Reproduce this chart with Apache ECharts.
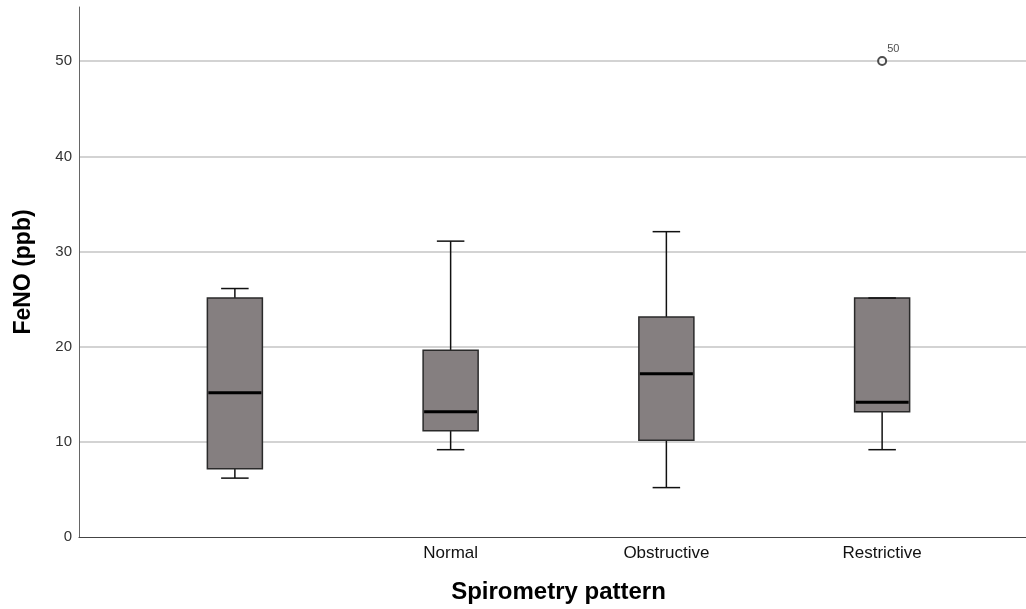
<!DOCTYPE html>
<html lang="en" style="height: 100%">

<head>
  <meta charset="utf-8">
</head>

<body style="height: 100%; margin: 0; background: #fff">
  <div id="container" style="width: 1026px; height: 609px;"></div>

  <script type="text/javascript" src="https://cdn.jsdelivr.net/npm/echarts@6/dist/echarts.min.js"></script>
  <script type="text/javascript">
    // spirometry groups (first group has no label)
    const categories = ['', 'Normal', 'Obstructive', 'Restrictive'];
    const whiskerLow = [6, 9, 5, 9];
    const q1 = [7, 11, 10, 13];
    const median = [15, 13, 17, 14];
    const q3 = [25, 19.5, 23, 25];
    const whiskerHigh = [26, 31, 32, 25];
    // outliers: [category, value, case label]
    const outliers = [['Restrictive', 50, '50']];
    const yTicks = [0, 10, 20, 30, 40, 50];
    const yMax = 55.7;

    const font = "'Liberation Sans', Arial, sans-serif";

    var dom = document.getElementById('container');
    var myChart = echarts.init(dom, null, { renderer: 'canvas' });

    const boxData = categories.map((c, i) => [i, whiskerLow[i], q1[i], median[i], q3[i], whiskerHigh[i]]);

    function renderBox(params, api) {
      const idx = api.value(0);
      const band = api.size([1, 0])[0];
      const boxW = band * 0.255;
      const capW = boxW / 2;
      const pLow = api.coord([idx, api.value(1)]);
      const pQ1 = api.coord([idx, api.value(2)]);
      const pMed = api.coord([idx, api.value(3)]);
      const pQ3 = api.coord([idx, api.value(4)]);
      const pHigh = api.coord([idx, api.value(5)]);
      const cx = pMed[0];
      const lineStyle = { stroke: '#111', lineWidth: 1.5 };
      return {
        type: 'group',
        children: [
          { type: 'line', shape: { x1: cx, y1: pHigh[1], x2: cx, y2: pQ3[1] }, style: lineStyle },
          { type: 'line', shape: { x1: cx, y1: pQ1[1], x2: cx, y2: pLow[1] }, style: lineStyle },
          {
            type: 'rect',
            shape: { x: cx - boxW / 2, y: pQ3[1], width: boxW, height: pQ1[1] - pQ3[1] },
            style: { fill: '#857f80', stroke: '#2a2a2a', lineWidth: 1.5 }
          },
          { type: 'line', shape: { x1: cx - capW / 2, y1: pHigh[1], x2: cx + capW / 2, y2: pHigh[1] }, style: lineStyle },
          { type: 'line', shape: { x1: cx - capW / 2, y1: pLow[1], x2: cx + capW / 2, y2: pLow[1] }, style: lineStyle },
          {
            type: 'line',
            shape: { x1: cx - boxW / 2 + 1, y1: pMed[1], x2: cx + boxW / 2 - 1, y2: pMed[1] },
            style: { stroke: '#000', lineWidth: 3 }
          }
        ]
      };
    }

    var option = {
      animation: false,
      textStyle: { fontFamily: font },
      grid: [
        { left: 79, right: 0, top: 7, bottom: 72 },
        { left: 127, right: 36, top: 7, bottom: 72 }
      ],
      xAxis: [
        {
          type: 'category',
          gridIndex: 0,
          data: [''],
          axisLine: { show: true, lineStyle: { color: '#444', width: 1.2 } },
          axisTick: { show: false },
          axisLabel: { show: false },
          splitLine: { show: false }
        },
        {
          type: 'category',
          gridIndex: 1,
          data: categories,
          axisLine: { show: false },
          axisTick: { show: false },
          axisLabel: { fontSize: 17, color: '#111', margin: 10, fontFamily: font },
          name: 'Spirometry pattern',
          nameLocation: 'middle',
          nameGap: 45,
          nameTextStyle: { fontSize: 24, fontWeight: 'bold', color: '#000', fontFamily: font }
        }
      ],
      yAxis: [
        {
          type: 'value',
          gridIndex: 0,
          min: 0,
          max: yMax,
          interval: 10,
          axisLine: { show: true, lineStyle: { color: '#666', width: 1 } },
          axisTick: { show: false },
          axisLabel: {
            fontSize: 15,
            color: '#333',
            margin: 7,
            showMaxLabel: false,
            fontFamily: font,
            formatter: v => (yTicks.indexOf(v) >= 0 ? String(v) : '')
          },
          splitLine: {
            show: true,
            showMinLine: false,
            showMaxLine: false,
            lineStyle: { color: '#c4c4c4', width: 1.5 }
          },
          name: 'FeNO (ppb)',
          nameLocation: 'middle',
          nameGap: 44,
          nameTextStyle: { fontSize: 23, fontWeight: 'bold', color: '#000', fontFamily: font }
        },
        {
          type: 'value',
          gridIndex: 1,
          min: 0,
          max: yMax,
          show: false
        }
      ],
      series: [
        {
          type: 'custom',
          xAxisIndex: 1,
          yAxisIndex: 1,
          renderItem: renderBox,
          data: boxData,
          z: 3
        },
        {
          type: 'scatter',
          xAxisIndex: 1,
          yAxisIndex: 1,
          symbol: 'emptyCircle',
          symbolSize: 8,
          itemStyle: { color: '#222', borderColor: '#222', borderWidth: 1.5 },
          label: {
            show: true,
            formatter: p => p.data[2],
            position: [10, -13],
            fontSize: 11,
            color: '#222',
            fontFamily: font
          },
          data: outliers,
          z: 4
        }
      ]
    };

    myChart.setOption(option);
  </script>
</body>

</html>
